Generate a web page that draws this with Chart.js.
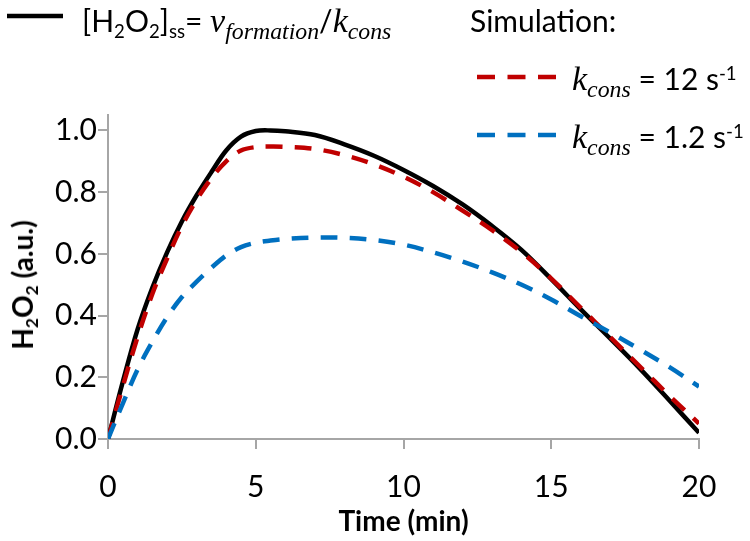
<!DOCTYPE html>
<html>
<head>
<meta charset="utf-8">
<script src="https://cdn.jsdelivr.net/npm/chart.js@4.4.1/dist/chart.umd.min.js"></script>
<style>
  body { margin: 0; background: #fff; }
  #wrap { position: relative; width: 750px; height: 541px; font-family: Lato, "Open Sans", sans-serif; color: #000; }
  #chart { position: absolute; left: 0; top: 0; }
  .lbl { position: absolute; white-space: nowrap; font-size: 30px; line-height: 1; }
  .lbl sub { font-size: 62%; vertical-align: -0.3em; line-height: 0; }
  .lbl sup { font-size: 62%; vertical-align: 0.55em; line-height: 0; }
  .m { font-family: "Liberation Serif", serif; font-style: italic; font-size: 34px; }
  .m sub { font-size: 70%; }
  .sample { position: absolute; }
  #ytitle { position: absolute; left: 22px; top: 285px; font-weight: bold; font-size: 28px;
            transform: translate(-50%, -50%) rotate(-90deg); white-space: nowrap; line-height: 1; }
  #ytitle sub { font-size: 62%; vertical-align: -0.3em; line-height: 0; }
</style>
</head>
<body>
<div id="wrap">
  <canvas id="chart" width="750" height="541"></canvas>

  <svg class="sample" style="left:5px;top:10px" width="60" height="12"><line x1="2" y1="6" x2="58" y2="6" stroke="#000" stroke-width="4.5"/></svg>
  <div class="lbl" style="left:82px;top:4px">[H<sub>2</sub>O<sub>2</sub>]<sub>ss</sub>= <span class="m">v<sub>formation</sub></span>/<span class="m">k<sub>cons</sub></span></div>

  <div class="lbl" style="left:470px;top:5px">Simulation:</div>

  <svg class="sample" style="left:475px;top:71px" width="84" height="12"><line x1="2" y1="6" x2="82" y2="6" stroke="#C00000" stroke-width="4.5" stroke-dasharray="18 12.5"/></svg>
  <div class="lbl" style="left:572px;top:62px"><span class="m">k<sub>cons</sub></span> = 12 s<sup>-1</sup></div>

  <svg class="sample" style="left:475px;top:129px" width="84" height="12"><line x1="2" y1="6" x2="82" y2="6" stroke="#0070C0" stroke-width="4.5" stroke-dasharray="18 12.5"/></svg>
  <div class="lbl" style="left:572px;top:120px"><span class="m">k<sub>cons</sub></span> = 1.2 s<sup>-1</sup></div>

  <div id="ytitle">H<sub>2</sub>O<sub>2</sub> (a.u.)</div>
</div>

<script>
// time points (min)
const timeMin = [0, 0.5, 1, 1.5, 2, 2.5, 3, 3.5, 4, 4.5, 5, 5.5, 6, 7, 8, 9, 10, 11, 12, 13, 14, 15, 16, 17, 18, 19, 20];

// steady state [H2O2]ss = v_formation / k_cons
const steadyState = [0, 0.185, 0.355, 0.49, 0.605, 0.705, 0.79, 0.865, 0.935, 0.98, 0.998, 1.0, 0.997, 0.985, 0.955, 0.918, 0.872, 0.82, 0.76, 0.69, 0.612, 0.518, 0.42, 0.325, 0.228, 0.125, 0.02];

// simulation, k_cons = 12 s-1
const sim12 = [0, 0.17, 0.33, 0.47, 0.585, 0.69, 0.775, 0.845, 0.9, 0.935, 0.946, 0.948, 0.947, 0.94, 0.92, 0.89, 0.85, 0.80, 0.74, 0.677, 0.605, 0.52, 0.425, 0.33, 0.235, 0.14, 0.05];

// simulation, k_cons = 1.2 s-1
const sim1p2 = [0, 0.115, 0.225, 0.315, 0.395, 0.46, 0.51, 0.555, 0.595, 0.622, 0.636, 0.643, 0.648, 0.653, 0.652, 0.645, 0.63, 0.605, 0.575, 0.54, 0.50, 0.452, 0.398, 0.345, 0.29, 0.233, 0.17];

const xTicks = [0, 5, 10, 15, 20];
const yTicks = [0, 0.2, 0.4, 0.6, 0.8, 1.0];

function toPoints(ys) {
    return timeMin.map((t, i) => ({ x: t, y: ys[i] }));
}

const axisGray = "#a6a6a6";
const tickFont = { family: "Lato", size: 30 };

new Chart(document.getElementById("chart"), {
    type: "line",
    data: {
        datasets: [
            {
                label: "k_cons = 1.2 s-1",
                data: toPoints(sim1p2),
                borderColor: "#0070C0",
                borderWidth: 4.5,
                borderDash: [17, 12],
            },
            {
                label: "k_cons = 12 s-1",
                data: toPoints(sim12),
                borderColor: "#C00000",
                borderWidth: 4.5,
                borderDash: [17, 12],
            },
            {
                label: "[H2O2]ss",
                data: toPoints(steadyState),
                borderColor: "#000000",
                borderWidth: 4.5,
            },
        ],
    },
    options: {
        responsive: false,
        animation: false,
        layout: { padding: { left: 0, top: 115, right: 51, bottom: 0 } },
        elements: {
            point: { radius: 0 },
            line: { tension: 0.35, fill: false },
        },
        plugins: { legend: { display: false }, tooltip: { enabled: false } },
        scales: {
            x: {
                type: "linear",
                min: 0,
                max: 20,
                afterBuildTicks: (scale) => { scale.ticks = xTicks.map((v) => ({ value: v })); },
                afterFit: (scale) => { scale.height = 102; },
                ticks: { font: tickFont, color: "#000", padding: 20, maxRotation: 0 },
                grid: { drawOnChartArea: false, tickLength: 10, color: axisGray, lineWidth: 2 },
                border: { color: axisGray, width: 2 },
                title: {
                    display: true,
                    text: "Time (min)",
                    color: "#000",
                    font: { family: "Lato", size: 28, weight: "bold" },
                    padding: { top: 0, bottom: 2 },
                },
            },
            y: {
                min: 0,
                max: 1.05,
                afterBuildTicks: (scale) => { scale.ticks = yTicks.map((v) => ({ value: v })); },
                afterFit: (scale) => { scale.width = 108; },
                ticks: { font: tickFont, color: "#000", padding: 1, callback: (v) => v.toFixed(1) },
                grid: { drawOnChartArea: false, tickLength: 10, color: axisGray, lineWidth: 2 },
                border: { color: axisGray, width: 2 },
            },
        },
    },
});
</script>
</body>
</html>
